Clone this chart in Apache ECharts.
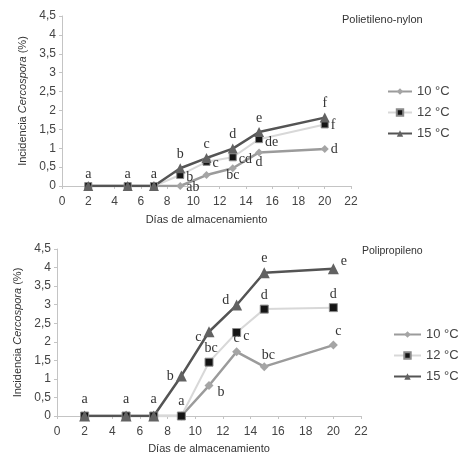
<!DOCTYPE html>
<html>
<head>
<meta charset="utf-8">
<script src="https://cdn.jsdelivr.net/npm/echarts@6/dist/echarts.min.js"></script>
<style>
  html, body { margin: 0; padding: 0; background: #fff; }
  #main { width: 476px; height: 466px; }
</style>
</head>
<body>
<div id="main"></div>
<script>
// storage days (x values)
var days = [2, 5, 7, 9, 11, 13, 15, 20];
var seriesNames = ['10 °C', '12 °C', '15 °C'];
var yTicks = ['0', '0,5', '1', '1,5', '2', '2,5', '3', '3,5', '4', '4,5'];

// Polietileno-nylon
var pn10 = [0, 0, 0, 0, 0.29, 0.47, 0.89, 0.98];
var pn12 = [0, 0, 0, 0.29, 0.64, 0.76, 1.24, 1.63];
var pn15 = [0, 0, 0, 0.47, 0.74, 0.99, 1.43, 1.81];
var pn10Letters = ['', '', '', 'ab', '', 'bc', 'd', 'd'];
var pn12Letters = ['', '', '', 'b', 'c', 'cd', 'de', 'f'];
var pn15Letters = ['a', 'a', 'a', 'b', 'c', 'd', 'e', 'f'];

// Polipropileno
var pp10 = [0, 0, 0, 0, 0.82, 1.73, 1.33, 1.91];
var pp12 = [0, 0, 0, 0, 1.45, 2.25, 2.88, 2.92];
var pp15 = [0, 0, 0, 1.08, 2.27, 2.99, 3.86, 3.97];
var pp10Letters = ['', '', '', '', 'b', 'c', 'bc', 'c'];
var pp12Letters = ['', '', '', 'a', 'bc', 'c', 'd', 'd'];
var pp15Letters = ['a', 'a', 'a', 'b', 'c', 'd', 'e', 'e'];

// label placement per point (style only)
var place = {
  pn10: [null, null, null, ['right', [0, 1]], null, ['bottom', [0, -6]], ['bottom', [0, -3]], ['right', [0, 0]]],
  pn12: [null, null, null, ['right', [0, 2]], ['right', [0, 2]], ['right', [0, 2]], ['right', [0, 3]], ['right', [0, 1]]],
  pn15: [['top', [0, 2]], ['top', [0, 2]], ['top', [0, 2]], ['top', [0, 0]], ['top', [0, 0]], ['top', [0, 0]], ['top', [0, 0]], ['top', [0, 0]]],
  pp10: [null, null, null, null, ['right', [2, 7]], ['top', [0, 0]], ['top', [4, 2]], ['top', [5, 0]]],
  pp12: [null, null, null, ['top', [0, -1]], ['top', [2, 0]], ['right', [0, 4]], ['top', [0, 0]], ['top', [0, 0]]],
  pp15: [['top', [0, -2]], ['top', [0, -2]], ['top', [0, -2]], ['left', [0, 0]], ['left', [0, 6]], ['left', [0, -5]], ['top', [0, 0]], ['right', [0, -7]]]
};

function points(values, letters, pl) {
  return days.map(function (d, i) {
    var item = { value: [d, values[i]] };
    if (letters[i] && pl[i]) {
      item.label = {
        show: true,
        formatter: letters[i],
        position: pl[i][0],
        offset: pl[i][1],
        distance: 2
      };
    }
    return item;
  });
}

var labelFont = {
  fontFamily: 'Liberation Serif',
  fontSize: 14,
  color: '#333'
};

function makeSeries(name, idx, values, letters, pl, look) {
  return {
    name: name,
    type: 'line',
    xAxisIndex: idx,
    yAxisIndex: idx,
    symbol: look.symbol,
    symbolSize: look.size,
    lineStyle: { color: look.line, width: look.width },
    itemStyle: { color: look.fill, borderColor: look.border, borderWidth: look.bw },
    label: Object.assign({ show: false }, labelFont),
    emphasis: { disabled: true },
    data: points(values, letters, pl)
  };
}

var look10 = { symbol: 'diamond', line: '#9b9b9b', width: 2.5, fill: '#a5a5a5', border: '#a5a5a5', bw: 0 };
var look12 = { symbol: 'rect', line: '#d8d8d8', width: 2, fill: '#151515', border: '#8a8a8a', bw: 1 };
var look15 = { symbol: 'triangle', line: '#545454', width: 2.5, fill: '#626262', border: '#626262', bw: 0 };

function xAxisCfg(idx, gap) {
  return {
    type: 'value',
    gridIndex: idx,
    min: 0,
    max: 22,
    interval: 2,
    name: 'Días de almacenamiento',
    nameLocation: 'middle',
    nameGap: gap,
    nameTextStyle: { fontFamily: 'Liberation Sans', fontSize: 11, color: '#333' },
    axisLine: { lineStyle: { color: '#c4c4c4', width: 1 } },
    axisTick: { show: true, length: 3, lineStyle: { color: '#c4c4c4' } },
    axisLabel: { fontFamily: 'Liberation Sans', fontSize: 12, color: '#444', margin: 10 },
    splitLine: { show: false }
  };
}

function yAxisCfg(idx, gap) {
  return {
    type: 'value',
    gridIndex: idx,
    min: 0,
    max: 4.5,
    interval: 0.5,
    name: '{n|Incidencia }{i|Cercospora}{n| (%)}',
    nameLocation: 'middle',
    nameGap: gap,
    nameRotate: 90,
    nameTextStyle: {
      rich: {
        n: { fontFamily: 'Liberation Sans', fontSize: 11, color: '#333' },
        i: { fontFamily: 'Liberation Sans', fontSize: 11, color: '#333', fontStyle: 'italic' }
      }
    },
    axisLine: { show: true, lineStyle: { color: '#c4c4c4', width: 1 } },
    axisTick: { show: true, length: 3, lineStyle: { color: '#c4c4c4' } },
    axisLabel: {
      fontFamily: 'Liberation Sans', fontSize: 12, color: '#444', margin: 6,
      formatter: function (v) { return yTicks[Math.round(v * 2)]; }
    },
    splitLine: { show: false }
  };
}

var legendStyle = {
  orient: 'vertical',
  itemHeight: 8,
  textStyle: { fontFamily: 'Liberation Sans', fontSize: 13, color: '#444' },
  data: seriesNames
};

var chart = echarts.init(document.getElementById('main'), null, { renderer: 'canvas' });
chart.setOption({
  backgroundColor: '#fff',
  animation: false,
  title: [
    { text: 'Polietileno-nylon', left: 337, top: 9, textStyle: { fontFamily: 'Liberation Sans', fontSize: 11, fontWeight: 'normal', color: '#333' } },
    { text: 'Polipropileno', left: 357, top: 241, textStyle: { fontFamily: 'Liberation Sans', fontSize: 10.5, fontWeight: 'normal', color: '#333' } }
  ],
  legend: [
    Object.assign({ left: 382, top: 80, itemWidth: 24, itemGap: 8 }, legendStyle),
    Object.assign({ left: 388, top: 323, itemWidth: 27, itemGap: 8 }, legendStyle)
  ],
  grid: [
    { left: 62, top: 16, width: 289, height: 170 },
    { left: 57, top: 249, width: 304, height: 167 }
  ],
  xAxis: [xAxisCfg(0, 28), xAxisCfg(1, 27)],
  yAxis: [yAxisCfg(0, 33), yAxisCfg(1, 30)],
  series: [
    makeSeries(seriesNames[0], 0, pn10, pn10Letters, place.pn10, Object.assign({ size: 8 }, look10)),
    makeSeries(seriesNames[1], 0, pn12, pn12Letters, place.pn12, Object.assign({ size: 7 }, look12)),
    makeSeries(seriesNames[2], 0, pn15, pn15Letters, place.pn15, Object.assign({ size: 10 }, look15)),
    makeSeries(seriesNames[0], 1, pp10, pp10Letters, place.pp10, Object.assign({ size: 9 }, look10)),
    makeSeries(seriesNames[1], 1, pp12, pp12Letters, place.pp12, Object.assign({ size: 8 }, look12)),
    makeSeries(seriesNames[2], 1, pp15, pp15Letters, place.pp15, Object.assign({ size: 11 }, look15))
  ]
});
</script>
</body>
</html>
